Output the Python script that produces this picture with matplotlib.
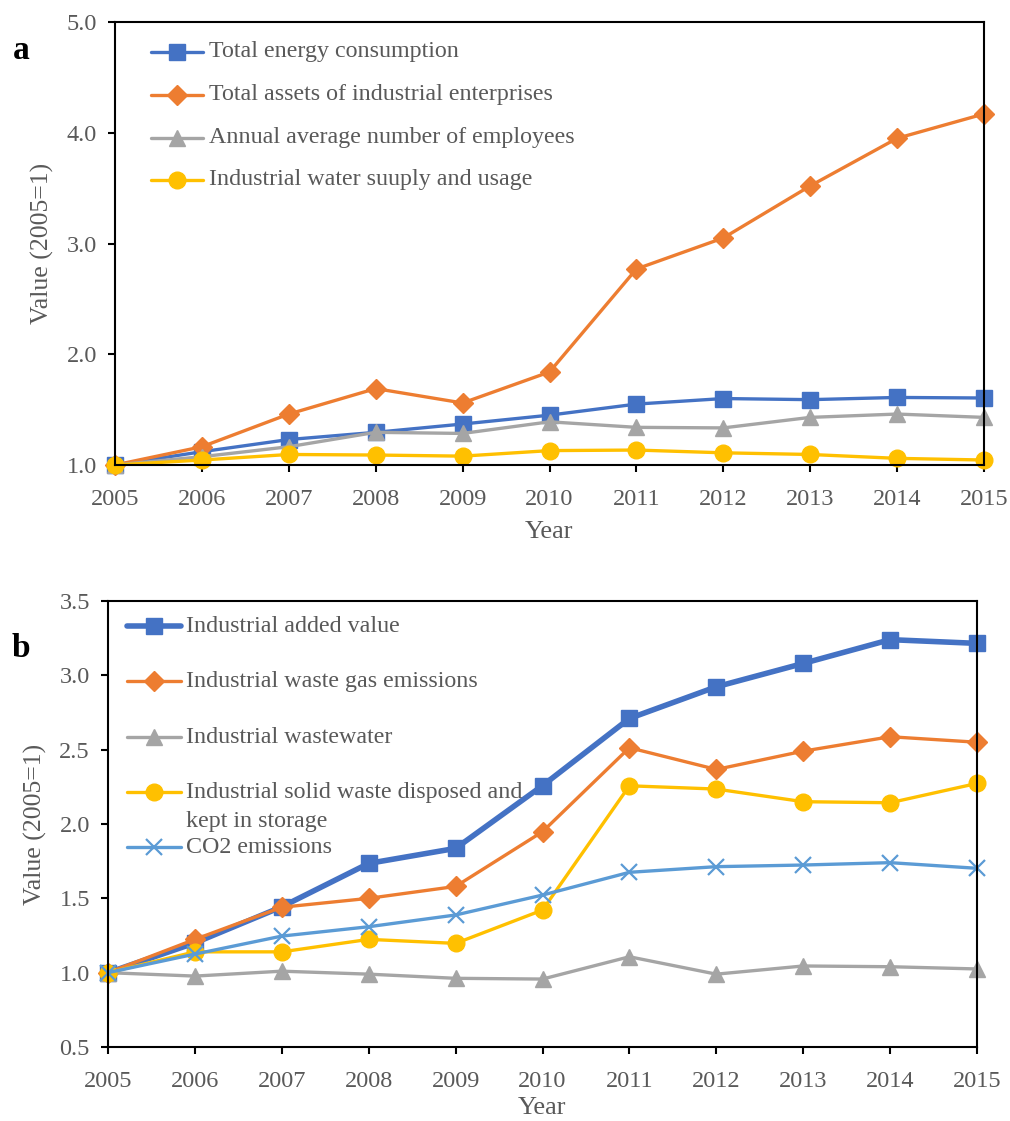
import numpy as np
import matplotlib
matplotlib.use("Agg")
import matplotlib.pyplot as plt
from matplotlib.lines import Line2D

plt.rcParams['font.family'] = ['Liberation Serif', 'DejaVu Serif']

# Data (index, 2005 = 1)
years = list(range(2005, 2016))

labels_a = ['Total energy consumption',
            'Total assets of industrial enterprises',
            'Annual average number of employees',
            'Industrial water suuply and usage']
energy = [1.00, 1.12, 1.23, 1.295, 1.37, 1.45, 1.55, 1.60, 1.59, 1.61, 1.605]
assets = [1.00, 1.165, 1.46, 1.69, 1.56, 1.84, 2.77, 3.05, 3.52, 3.95, 4.17]
employees = [1.00, 1.075, 1.165, 1.295, 1.285, 1.39, 1.34, 1.335, 1.43, 1.46, 1.43]
water = [1.00, 1.045, 1.095, 1.09, 1.08, 1.13, 1.135, 1.11, 1.095, 1.06, 1.045]

labels_b = ['Industrial added value',
            'Industrial waste gas emissions',
            'Industrial wastewater',
            'Industrial solid waste disposed and\nkept in storage',
            'CO2 emissions']
added_value = [1.00, 1.20, 1.443, 1.735, 1.836, 2.258, 2.71, 2.923, 3.08, 3.24, 3.215]
waste_gas = [1.00, 1.224, 1.44, 1.50, 1.58, 1.948, 2.513, 2.367, 2.49, 2.587, 2.55]
wastewater = [1.00, 0.977, 1.01, 0.99, 0.962, 0.957, 1.107, 0.99, 1.045, 1.04, 1.025]
solid_waste = [1.00, 1.14, 1.14, 1.224, 1.197, 1.421, 2.257, 2.235, 2.15, 2.143, 2.273]
co2 = [1.00, 1.125, 1.246, 1.309, 1.388, 1.522, 1.675, 1.713, 1.724, 1.74, 1.702]

BLUE = '#4472C4'
ORANGE = '#ED7D31'
GRAY = '#A5A5A5'
YELLOW = '#FFC000'
LBLUE = '#5B9BD5'
TXT = '#595959'

W, H = 1010, 1121
fig = plt.figure(figsize=(W / 100, H / 100), dpi=100)


def px_axes(l, t, r, b):
    return fig.add_axes([l / W, 1 - b / H, (r - l) / W, (b - t) / H])


def style(ax, ylim, yticks, xpad=8):
    ax.set_xlim(2005, 2015)
    ax.set_ylim(*ylim)
    ax.set_xticks(years)
    ax.set_yticks(yticks)
    ax.yaxis.set_major_formatter(matplotlib.ticker.FormatStrFormatter('%.1f'))
    for s in ax.spines.values():
        s.set_linewidth(1.5)
        s.set_color('black')
    ax.tick_params(direction='out', length=5, width=1.5, colors='black',
                   labelcolor=TXT, labelsize=17.5)
    ax.tick_params(axis='y', pad=8)
    ax.tick_params(axis='x', pad=12)
    ax.set_xlabel('Year', fontsize=19, color=TXT, labelpad=xpad)
    ax.set_ylabel('Value (2005=1)', fontsize=18.5, color=TXT, labelpad=9)


def legend_row(ax, x0, x1, xt, y, color, marker, ms, lw, label, mew=None):
    ax.add_line(Line2D([x0, x1], [y, y], transform=ax.transAxes, color=color,
                       lw=lw, solid_capstyle='round', clip_on=False))
    ax.add_line(Line2D([(x0 + x1) / 2], [y], transform=ax.transAxes, color=color,
                       marker=marker, ms=ms, mew=mew if mew else 1, lw=0,
                       clip_on=False))
    ax.text(xt, y, label, transform=ax.transAxes, fontsize=17.3, color=TXT,
            va='center', ha='left')


# ---- panel a ----
ax1 = px_axes(115, 22, 984, 465)
series_a = [
    (energy, BLUE, 's', 11, 2.4),
    (assets, ORANGE, 'D', 10, 2.4),
    (employees, GRAY, '^', 11.5, 2.4),
    (water, YELLOW, 'o', 12, 2.4),
]
for vals, c, m, ms, lw in series_a:
    ax1.plot(years, vals, color=c, marker=m, ms=ms, lw=lw, mec=c, clip_on=False)
style(ax1, (1.0, 5.0), [1.0, 2.0, 3.0, 4.0, 5.0], xpad=8)

rows_a = [0.933, 0.836, 0.739, 0.644]
for (vals, c, m, ms, lw), lab, y in zip(series_a, labels_a, rows_a):
    legend_row(ax1, 0.041, 0.101, 0.108, y, c, m, ms, lw, lab)

fig.text(21 / W, 1 - 59 / H, 'a', fontsize=24, fontweight='bold',
         ha='center', va='baseline')

# ---- panel b ----
ax2 = px_axes(108, 601, 977, 1047)
series_b = [
    (added_value, BLUE, 's', 11, 4.0, None),
    (waste_gas, ORANGE, 'D', 10, 2.4, None),
    (wastewater, GRAY, '^', 11.5, 2.4, None),
    (solid_waste, YELLOW, 'o', 12, 2.4, None),
    (co2, LBLUE, 'x', 11, 2.4, 1.6),
]
for vals, c, m, ms, lw, mew in series_b:
    ax2.plot(years, vals, color=c, marker=m, ms=ms, lw=lw, mec=c,
             mew=mew if mew else 1, clip_on=False)
style(ax2, (0.5, 3.5), [0.5, 1.0, 1.5, 2.0, 2.5, 3.0, 3.5], xpad=4)

rows_b = [0.943, 0.820, 0.694, 0.571, 0.448]
line_gap = 29 / 446  # second line of a wrapped legend label
for (vals, c, m, ms, lw, mew), lab, y in zip(series_b, labels_b, rows_b):
    parts = lab.split('\n')
    legend_row(ax2, 0.022, 0.084, 0.0895, y, c, m, ms, lw, parts[0], mew)
    for k, extra in enumerate(parts[1:], start=1):
        ax2.text(0.0895, y - k * line_gap, extra, transform=ax2.transAxes,
                 fontsize=17.3, color=TXT, va='center', ha='left')

fig.text(21 / W, 1 - 657 / H, 'b', fontsize=24, fontweight='bold',
         ha='center', va='baseline')

fig.savefig('out.png', dpi=100)
